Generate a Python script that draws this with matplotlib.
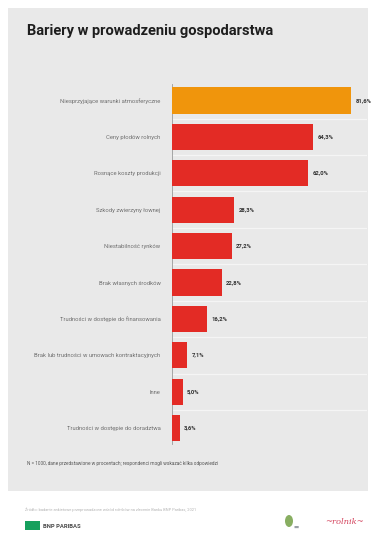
import matplotlib
matplotlib.use("Agg")
import matplotlib.pyplot as plt
from matplotlib.patches import Rectangle, Ellipse

plt.rcParams['font.family'] = ['Roboto', 'DejaVu Sans']

# --- data -------------------------------------------------------------
categories = [
    "Niesprzyjające warunki atmosferyczne",
    "Ceny płodów rolnych",
    "Rosnące koszty produkcji",
    "Szkody zwierzyny łownej",
    "Niestabilność rynków",
    "Brak własnych środków",
    "Trudności w dostępie do finansowania",
    "Brak lub trudności w umowach kontraktacyjnych",
    "Inne",
    "Trudności w dostępie do doradztwa",
]
values = [81.6, 64.3, 62.0, 28.3, 27.2, 22.8, 16.2, 7.1, 5.0, 3.6]
value_labels = ["81,6%", "64,3%", "62,0%", "28,3%", "27,2%",
                "22,8%", "16,2%", "7,1%", "5,0%", "3,6%"]
highlight = [True] + [False] * 9

title = "Bariery w prowadzeniu gospodarstwa"
note = "N = 1000, dane przedstawione w procentach; respondenci mogli wskazać kilka odpowiedzi"
source = ("Źródło: badanie ankietowe przeprowadzone wśród rolników na zlecenie "
          "Banku BNP Paribas, 2021")

# --- figure -----------------------------------------------------------
W, H = 377, 533
fig = plt.figure(figsize=(W / 100, H / 100), dpi=100)
fig.patch.set_facecolor("white")

def fx(px):
    return px / W

def fy(py):
    return 1 - py / H

# grey panel
panel = Rectangle((fx(8), fy(491)), fx(368) - fx(8), fy(8) - fy(491),
                  transform=fig.transFigure, facecolor="#e9e9e9",
                  edgecolor="none", zorder=-5)
fig.patches.append(panel)

fig.text(fx(27), fy(31), title, fontsize=10.5, fontweight="bold",
         color="#1e1e1e", ha="left", va="center")

# --- bars -------------------------------------------------------------
ax_left, ax_right = 171.7, 367
ax_top, ax_bot = 82.3, 446.3
ax = fig.add_axes([fx(ax_left), fy(ax_bot), fx(ax_right) - fx(ax_left),
                   fy(ax_top) - fy(ax_bot)], zorder=2)
ax.set_facecolor("none")

ypos = list(range(len(categories)))
colors = ["#f0950c" if h else "#e32b25" for h in highlight]
ax.barh(ypos, values, height=0.72, color=colors, zorder=3)

ax.set_xlim(0, 88.7)
ax.set_ylim(len(categories) - 0.5, -0.5)

# light separators between rows
for i in range(len(categories) - 1):
    ax.axhline(i + 0.5, color="#f5f5f5", lw=0.9, zorder=1)

for y, v, lab in zip(ypos, values, value_labels):
    ax.text(v + 2.0, y, lab, fontsize=4.2, fontweight="bold",
            color="#333333", ha="left", va="center")

ax.set_yticks(ypos)
ax.set_yticklabels(categories, fontsize=4.2, color="#707070")
ax.tick_params(axis="y", length=0, pad=8)
ax.set_xticks([])
for s in ["top", "right", "bottom"]:
    ax.spines[s].set_visible(False)
ax.spines["left"].set_color("#9a9a9a")
ax.spines["left"].set_linewidth(0.6)
ax.spines["left"].set_bounds(len(categories) - 0.55, -0.45)

# --- notes & footer ---------------------------------------------------
fig.text(fx(27), fy(464), note, fontsize=3.4, color="#555555",
         ha="left", va="center")
fig.text(fx(25), fy(510), source, fontsize=2.9, color="#b5b5b5",
         ha="left", va="center")

logo = Rectangle((fx(25), fy(530)), fx(40) - fx(25), fy(521) - fy(530),
                 transform=fig.transFigure, facecolor="#16a05d",
                 edgecolor="none")
fig.patches.append(logo)
fig.text(fx(43), fy(526), "BNP PARIBAS", fontsize=4.2, fontweight="bold",
         color="#4a4a4a", ha="left", va="center")

# partner marks at the bottom right
leaf = Ellipse((fx(289), fy(521)), fx(8) - fx(0), fy(0) - fy(12),
               transform=fig.transFigure, facecolor="#6a9a3a",
               edgecolor="none", alpha=0.8)
fig.patches.append(leaf)
fig.text(fx(293), fy(527), "▬", fontsize=4, color="#9aa0a6",
         ha="left", va="center")
fig.text(fx(344), fy(522), "~rolnik~", fontsize=6, style="italic",
         family="DejaVu Serif", color="#d4455e", ha="center", va="center")

fig.savefig("out.png", dpi=100, facecolor=fig.get_facecolor())
